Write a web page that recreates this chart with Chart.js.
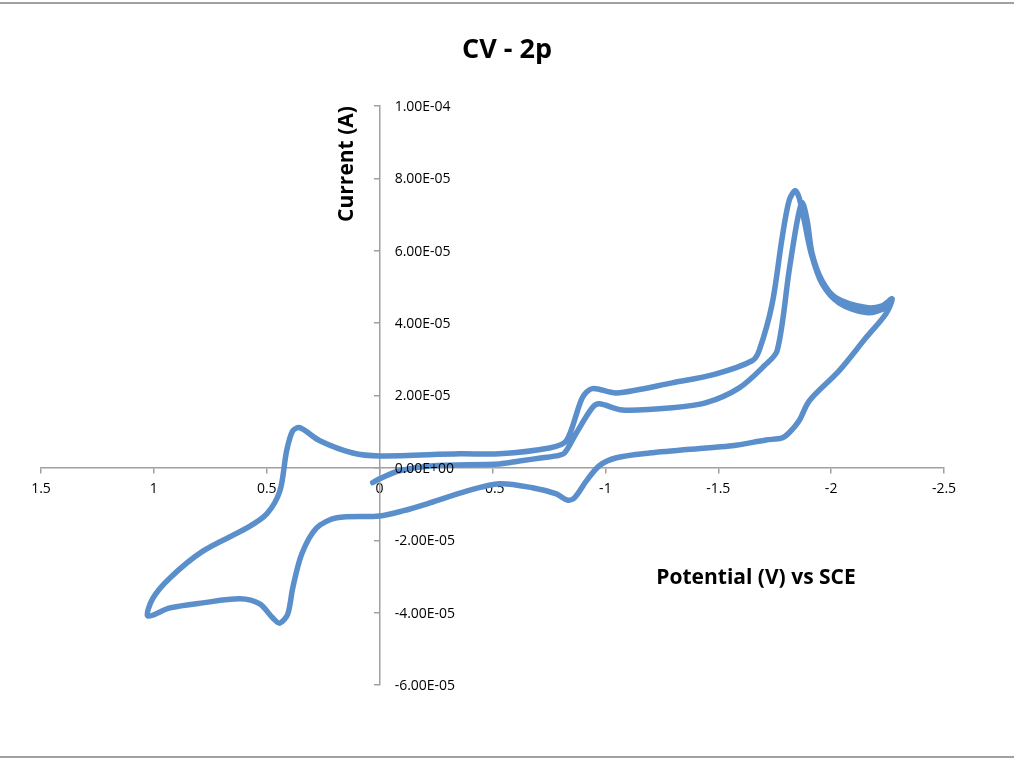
<!DOCTYPE html>
<html>
<head>
<meta charset="utf-8">
<title>CV - 2p</title>
<script src="https://cdn.jsdelivr.net/npm/chart.js@4.4.1/dist/chart.umd.min.js"></script>
<style>
  html, body { margin: 0; padding: 0; background: #fff; }
  #wrap { width: 1014px; height: 760px; }
</style>
</head>
<body>
<div id="wrap"><canvas id="Chart" width="1014" height="760"></canvas></div>
<script>
// potential in V vs SCE, current in microamps
const firstScanPotential = [0.031, 0.000, -0.088, -0.235, -0.531, -0.619, -0.721, -0.783, -0.819, -0.872, -0.942, -0.973, -1.075, -1.296, -1.447, -1.593, -1.704, -1.761, -1.814, -1.850, -1.872, -1.894, -1.916, -1.960, -2.022, -2.155, -2.226, -2.270];
const firstScanCurrent = [-4.1, -3.0, -0.8, 0.6, 1.1, 1.9, 2.8, 3.3, 4.1, 9.7, 16.6, 17.7, 16.0, 16.6, 18.0, 22.1, 28.2, 32.4, 54.5, 68.3, 73.3, 68.3, 59.2, 51.7, 47.0, 44.3, 44.8, 46.7];

const returnScanPotential = [-2.243, -2.155, -2.035, -1.903, -1.858, -1.814, -1.783, -1.712, -1.562, -1.447, -1.195, -1.049, -0.973, -0.916, -0.863, -0.832, -0.783, -0.677, -0.531, -0.385, -0.221, -0.102, 0.000, 0.190, 0.279, 0.345, 0.385, 0.407, 0.442, 0.473, 0.531, 0.619, 0.783, 0.929, 1.027];
const returnScanCurrent = [42.6, 36.0, 26.8, 18.5, 13.0, 9.7, 8.3, 7.7, 6.1, 5.5, 4.1, 2.8, 0.6, -3.6, -8.3, -8.9, -7.2, -5.5, -4.4, -6.4, -9.7, -11.9, -13.3, -13.8, -16.6, -23.8, -33.2, -40.4, -42.9, -41.5, -37.6, -36.2, -37.3, -38.7, -40.9];

const secondScanPotential = [1.004, 0.929, 0.783, 0.588, 0.500, 0.442, 0.412, 0.385, 0.354, 0.265, 0.119, 0.000, -0.354, -0.531, -0.752, -0.827, -0.898, -0.942, -1.049, -1.296, -1.491, -1.650, -1.681, -1.739, -1.783, -1.814, -1.841, -1.858, -1.881, -1.912, -1.960, -2.035, -2.155, -2.243, -2.270];
const secondScanCurrent = [-36.0, -30.4, -23.0, -16.6, -12.7, -6.4, 4.7, 10.2, 11.1, 7.5, 4.1, 3.3, 3.9, 3.9, 5.5, 7.5, 19.4, 21.9, 20.7, 23.5, 26.0, 29.6, 32.4, 45.4, 63.6, 73.9, 76.6, 74.7, 68.3, 59.2, 50.9, 45.6, 42.9, 44.3, 46.7];

const potentialTicks = [1.5, 1, 0.5, 0, -0.5, -1, -1.5, -2, -2.5];
const currentTicks = [1e-4, 8e-5, 6e-5, 4e-5, 2e-5, 0, -2e-5, -4e-5, -6e-5];

const potentials = firstScanPotential.concat(returnScanPotential, secondScanPotential);
const currents = firstScanCurrent.concat(returnScanCurrent, secondScanCurrent);
const points = potentials.map((v, i) => ({ x: v, y: currents[i] * 1e-6 }));

function sci(v) {
    if (Math.abs(v) < 1e-12) return '0.00E+00';
    const parts = v.toExponential(2).split('e');
    const n = parseInt(parts[1], 10);
    return parts[0] + 'E' + (n < 0 ? '-' : '+') + String(Math.abs(n)).padStart(2, '0');
}

const axisGray = '#a0a0a0';
const font = '"Open Sans", "Liberation Sans", sans-serif';

// frame lines, y tick labels and the titles (Excel puts them in odd places)
const chartText = {
    id: 'chartText',
    beforeDraw(chart) {
        const c = chart.ctx;
        c.save();
        c.strokeStyle = axisGray;
        c.lineWidth = 2;
        c.beginPath();
        c.moveTo(0, 3); c.lineTo(chart.width, 3);
        c.moveTo(0, 757); c.lineTo(chart.width, 757);
        c.stroke();
        c.restore();
    },
    afterDraw(chart) {
        const c = chart.ctx;
        const x = chart.scales.x;
        const y = chart.scales.y;
        const x0 = x.getPixelForValue(0);
        c.save();
        c.fillStyle = '#000';
        c.font = '14px ' + font;
        c.textAlign = 'left';
        c.textBaseline = 'middle';
        currentTicks.forEach(t => c.fillText(sci(t), x0 + 15, y.getPixelForValue(t) + 1));

        c.textAlign = 'center';
        c.font = 'bold 27px ' + font;
        c.fillText('CV - 2p', 507, 50);
        c.font = 'bold 21px ' + font;
        c.fillText('Potential (V) vs SCE', 756, 578);
        c.translate(347, 164);
        c.rotate(-Math.PI / 2);
        c.fillText('Current (A)', 0, 0);
        c.restore();
    }
};

new Chart(document.getElementById('Chart'), {
    type: 'scatter',
    data: {
        datasets: [{
            label: 'CV - 2p',
            data: points,
            showLine: true,
            borderColor: '#5a8fcb',
            borderWidth: 5.5,
            borderJoinStyle: 'round',
            borderCapStyle: 'round',
            pointRadius: 0,
            tension: 0.3
        }]
    },
    options: {
        responsive: false,
        animation: false,
        devicePixelRatio: 1,
        layout: { padding: { left: 41, right: 70, top: 106, bottom: 75 } },
        plugins: {
            legend: { display: false },
            title: { display: false },
            tooltip: { enabled: false }
        },
        scales: {
            x: {
                type: 'linear',
                reverse: true,
                min: -2.5,
                max: 1.5,
                position: { y: 0 },
                afterBuildTicks: s => { s.ticks = potentialTicks.map(v => ({ value: v })); },
                ticks: {
                    color: '#000',
                    font: { size: 14, family: font },
                    padding: 8,
                    maxRotation: 0,
                    callback: v => String(Math.round(v * 10) / 10)
                },
                grid: { drawOnChartArea: false, drawTicks: true, tickLength: 5, color: axisGray, lineWidth: 1.5 },
                border: { color: axisGray, width: 1.5 }
            },
            y: {
                type: 'linear',
                min: -6e-5,
                max: 1e-4,
                position: { x: 0 },
                afterBuildTicks: s => { s.ticks = currentTicks.map(v => ({ value: v })); },
                ticks: { display: false },
                grid: { drawOnChartArea: false, drawTicks: true, tickLength: 5, color: axisGray, lineWidth: 1.5 },
                border: { color: axisGray, width: 1.5 }
            }
        }
    },
    plugins: [chartText]
});
</script>
</body>
</html>
